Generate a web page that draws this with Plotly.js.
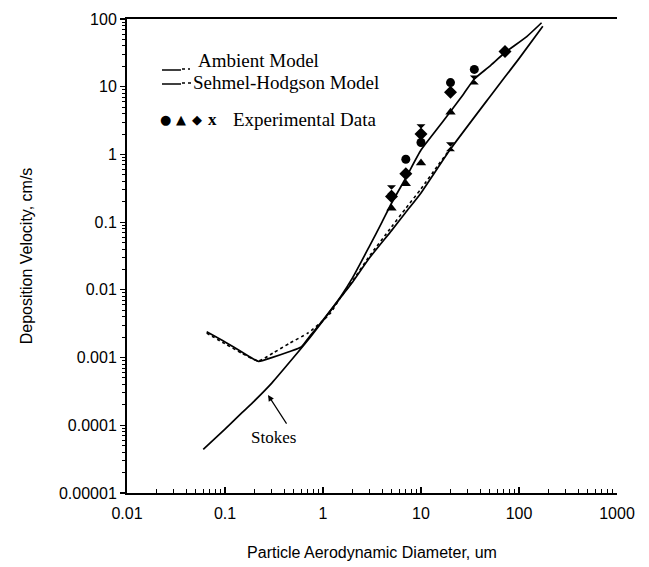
<!DOCTYPE html>
<html>
<head>
<meta charset="utf-8">
<script src="https://cdn.plot.ly/plotly-3.0.1.min.js"></script>
<style>
  html, body { margin: 0; padding: 0; background: #fff; }
  #chart { width: 649px; height: 567px; }
</style>
</head>
<body>
<div id="chart"></div>
<script>
// ---- Data ----
const stokesD = [0.06, 0.1, 0.15, 0.2, 0.3, 0.5, 0.7, 1, 1.5, 2, 3, 5, 7, 10, 20, 50, 100, 175];
const stokesV = [4.4e-5, 8.8e-5, 1.55e-4, 2.3e-4, 4.2e-4, 1.0e-3, 1.8e-3, 3.5e-3, 7.6e-3, 1.3e-2, 3.0e-2, 7.5e-2, 0.14, 0.27, 1.2, 7.0, 26, 78];

const ambientD = [0.065, 0.1, 0.15, 0.22, 0.3, 0.45, 0.6, 0.72, 1, 1.5, 2, 3, 4, 5, 7, 10, 14, 20, 27, 35, 50, 72, 120, 170];
const ambientV = [0.0024, 0.0017, 0.0012, 0.00088, 0.001, 0.00122, 0.00143, 0.002, 0.0036, 0.0078, 0.015, 0.045, 0.1, 0.19, 0.45, 1.16, 2.2, 4.3, 7.7, 13, 20, 32, 55, 88];

const sehmelD = [0.065, 0.1, 0.15, 0.22, 0.31, 0.46, 0.7, 1.0, 1.2, 1.5, 2, 3, 5, 7, 10, 15, 20.6];
const sehmelV = [0.0023, 0.0016, 0.00115, 0.00089, 0.00117, 0.00164, 0.0023, 0.0035, 0.0046, 0.0076, 0.0135, 0.032, 0.085, 0.16, 0.31, 0.7, 1.3];

const circleD = [7, 10, 20, 35];
const circleV = [0.85, 1.5, 11.5, 18];
const triangleD = [5, 7, 10, 20];
const triangleV = [0.16, 0.37, 0.75, 4.2];
const diamondD = [5, 7, 10, 20, 72];
const diamondV = [0.24, 0.52, 2.0, 8.3, 33];
const crossD = [5, 10, 20, 35];
const crossV = [0.30, 2.4, 1.3, 12.6];

const legendLabels = ['Ambient Model', 'Sehmel-Hodgson Model', 'Experimental Data'];
const legendSymbols = ['●', '▲', '◆'];
const stokesLabel = 'Stokes';

// ---- Traces ----
const traces = [
  {x: stokesD, y: stokesV, mode: 'lines', line: {color: '#000', width: 1.7, shape: 'spline', smoothing: 0.5}, name: stokesLabel},
  {x: ambientD, y: ambientV, mode: 'lines', line: {color: '#000', width: 1.7, shape: 'spline', smoothing: 0.5}, name: legendLabels[0]},
  {x: sehmelD, y: sehmelV, mode: 'lines', line: {color: '#000', width: 1.6, dash: 'dot', shape: 'spline', smoothing: 0.5}, name: legendLabels[1]},
  {x: circleD, y: circleV, mode: 'markers', marker: {symbol: 'circle', size: 9, color: '#000'}},
  {x: triangleD, y: triangleV, mode: 'markers', marker: {symbol: 'triangle-up', size: 9, color: '#000'}},
  {x: diamondD, y: diamondV, mode: 'markers', marker: {symbol: 'diamond', size: 10, color: '#000'}},
  {x: crossD, y: crossV, mode: 'markers', marker: {symbol: 'hourglass', size: 9, color: '#000'}}
];

// pixel helpers for the legend drawn in paper space
const L = 127, R = 32, T = 19, B = 74, W = 649, H = 567;
const pw = W - L - R, ph = H - T - B;
const px = v => (v - L) / pw;
const py = v => (H - B - v) / ph;

const serif = {family: 'Liberation Serif, Times New Roman, serif', size: 19, color: '#000'};
const symFont = {family: 'DejaVu Sans, sans-serif', size: 13, color: '#000'};

const annotations = [
  {xref: 'paper', yref: 'paper', x: px(196), y: py(60), xanchor: 'left', yanchor: 'middle', text: legendLabels[0], showarrow: false, font: serif},
  {xref: 'paper', yref: 'paper', x: px(191), y: py(82), xanchor: 'left', yanchor: 'middle', text: legendLabels[1], showarrow: false, font: serif},
  {xref: 'paper', yref: 'paper', x: px(231), y: py(120), xanchor: 'left', yanchor: 'middle', text: legendLabels[2], showarrow: false, font: serif},
  {xref: 'paper', yref: 'paper', x: px(212), y: py(120), xanchor: 'center', yanchor: 'middle', text: '<b>x</b>', showarrow: false, font: {family: 'Liberation Serif, serif', size: 17, color: '#000'}},
  {xref: 'paper', yref: 'paper', x: px(273), y: py(437), xanchor: 'center', yanchor: 'middle', text: stokesLabel, showarrow: false, font: {family: 'Liberation Serif, Times New Roman, serif', size: 17, color: '#000'}},
  {xref: 'x', yref: 'y', x: Math.log10(0.275), y: Math.log10(2.8e-4), text: ' ', showarrow: true, arrowhead: 2, arrowsize: 1, arrowwidth: 1.2, arrowcolor: '#000', ax: 22, ay: 34, standoff: 0}
];
const symX = [165, 181, 197];
legendSymbols.forEach((s, i) => annotations.push({
  xref: 'paper', yref: 'paper', x: px(symX[i]), y: py(120), xanchor: 'center', yanchor: 'middle', text: s, showarrow: false, font: symFont
}));

const layout = {
  width: W, height: H,
  margin: {l: L, r: R, t: T, b: B},
  paper_bgcolor: '#fff', plot_bgcolor: '#fff',
  showlegend: false,
  font: {family: 'Liberation Sans, Arial, sans-serif', size: 16, color: '#000'},
  xaxis: {
    type: 'log', range: [-2, 3],
    tickmode: 'linear', tick0: 0, dtick: 1, exponentformat: 'none',
    ticks: 'inside', ticklen: 6, tickwidth: 1.2, tickcolor: '#000',
    minor: {dtick: 'D1', ticks: 'inside', ticklen: 4, tickwidth: 1, tickcolor: '#000', showgrid: false},
    showgrid: false, zeroline: false,
    showline: true, linecolor: '#000', linewidth: 2, mirror: true,
    tickfont: {size: 16},
    ticklabelstandoff: 5,
    title: {text: 'Particle Aerodynamic Diameter, um', font: {size: 16}, standoff: 26}
  },
  yaxis: {
    type: 'log', range: [-5, 2],
    tickmode: 'linear', tick0: 0, dtick: 1, exponentformat: 'none',
    ticks: 'outside', ticklen: 5, tickwidth: 1.2, tickcolor: '#000',
    minor: {dtick: 'D1', ticks: 'outside', ticklen: 3, tickwidth: 1, tickcolor: '#000', showgrid: false},
    showgrid: false, zeroline: false,
    showline: true, linecolor: '#000', linewidth: 2,
    tickfont: {size: 16},
    title: {text: 'Deposition Velocity, cm/s', font: {size: 16}, standoff: 22}
  },
  shapes: [
    {type: 'line', xref: 'paper', yref: 'paper', x0: px(162), x1: px(181), y0: py(70), y1: py(70), line: {color: '#000', width: 1.5}},
    {type: 'line', xref: 'paper', yref: 'paper', x0: px(182), x1: px(190), y0: py(69), y1: py(69), line: {color: '#000', width: 1.5, dash: 'dot'}},
    {type: 'line', xref: 'paper', yref: 'paper', x0: px(162), x1: px(181), y0: py(84), y1: py(84), line: {color: '#000', width: 1.5}},
    {type: 'line', xref: 'paper', yref: 'paper', x0: px(182), x1: px(192), y0: py(83), y1: py(83), line: {color: '#000', width: 1.5, dash: 'dot'}}
  ],
  annotations: annotations
};

Plotly.newPlot('chart', traces, layout, {displayModeBar: false, staticPlot: true});
</script>
</body>
</html>
